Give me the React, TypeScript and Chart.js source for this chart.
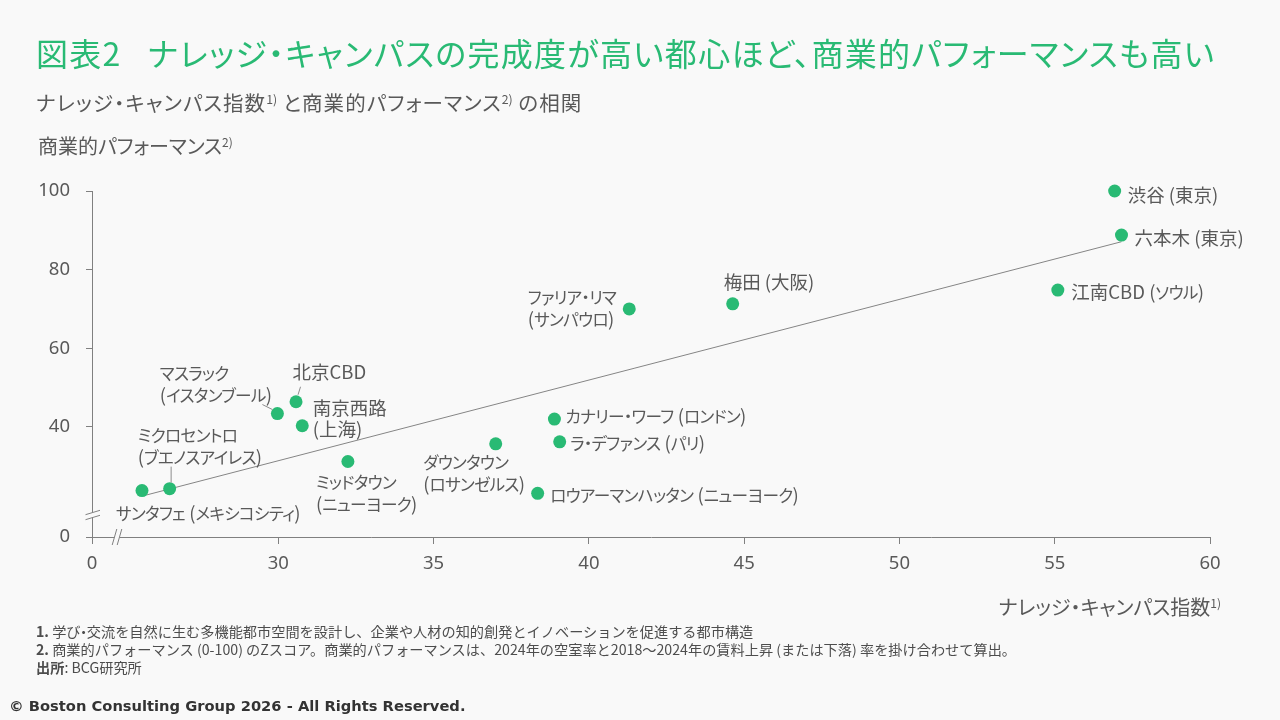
import React, { useEffect, useRef, useState } from 'react';
import { Chart, registerables } from 'chart.js';

Chart.register(...registerables);

// ---- data -------------------------------------------------------------
const cityNames = [
  '渋谷 (東京)',
  '六本木 (東京)',
  '江南CBD (ソウル)',
  '梅田 (大阪)',
  'ファリア・リマ\n(サンパウロ)',
  '北京CBD',
  'マスラック\n(イスタンブール)',
  '南京西路\n(上海)',
  'ミクロセントロ\n(ブエノスアイレス)',
  'サンタフェ (メキシコシティ)',
  'ミッドタウン\n(ニューヨーク)',
  'ダウンタウン\n(ロサンゼルス)',
  'カナリー・ワーフ (ロンドン)',
  'ラ・デファンス (パリ)',
  'ロウアーマンハッタン (ニューヨーク)',
];

// ナレッジ・キャンパス指数
const knowledgeIndex = [56.93, 57.15, 55.1, 44.63, 41.3, 30.57, 29.97, 30.77, 26.5, 25.61, 32.24, 37.0, 38.89, 39.06, 38.35];
// 商業的パフォーマンス (0-100)
const performance = [100, 88.8, 74.8, 71.3, 70.0, 46.4, 43.4, 40.3, 24.3, 23.8, 31.2, 35.7, 42.0, 36.2, 23.1];

// fitted trend line (two end points)
const trendIndex = [25.76, 57.15];
const trendPerformance = [22.7, 87.1];

// axes: both are broken, the floor value is shown as "0"
const xTickValues = [30, 35, 40, 45, 50, 55, 60];
const yTickValues = [40, 60, 80, 100];
const xAxisFloor = 24;
const yAxisFloor = 12;
const xAxisMax = 60;
const yAxisMax = 100;
const floorLabel = '0';

// ---- styles -----------------------------------------------------------
const GREEN = '#29BA74';
const TEXT = '#595959';
const AXIS = '#808080';
const BG = '#f9f9f9';
const JP = '"Noto Sans CJK JP", "Noto Sans", sans-serif';

type Placement = { align: 'left' | 'right'; dx: number; dy: number };
// where each city label sits relative to its point (px)
const labelPlacement: Placement[] = [
  { align: 'left', dx: 13, dy: -7.5 },
  { align: 'left', dx: 13, dy: -8.5 },
  { align: 'left', dx: 13.5, dy: -9 },
  { align: 'left', dx: -9, dy: -33 },
  { align: 'right', dx: -13, dy: -23 },
  { align: 'left', dx: -3.5, dy: -41 },
  { align: 'right', dx: -5.5, dy: -52 },
  { align: 'left', dx: 10.5, dy: -29 },
  { align: 'left', dx: -32, dy: -65 },
  { align: 'left', dx: -26, dy: 11.5 },
  { align: 'left', dx: -32, dy: 9.5 },
  { align: 'left', dx: -72.5, dy: 7.5 },
  { align: 'left', dx: 11, dy: -14.5 },
  { align: 'left', dx: 10.5, dy: -10 },
  { align: 'left', dx: 12.5, dy: -9 },
];

// short connector lines between a label and its point
const leaderLines = [
  { index: 5, from: [2, -7], to: [4.5, -15] },
  { index: 6, from: [-5, -4], to: [-15, -9] },
  { index: 8, from: [1.5, -6], to: [1.5, -22] },
];

const decorations = {
  id: 'decorations',
  afterDraw(chart: any) {
    const ctx = chart.ctx as CanvasRenderingContext2D;
    const { left, bottom } = chart.chartArea;
    const yb = bottom - 22;
    const xb = left + 25;
    ctx.save();
    // gaps in the axis lines
    ctx.fillStyle = BG;
    ctx.fillRect(left - 2, yb - 2.5, 4, 5);
    ctx.fillRect(xb - 2.5, bottom - 2, 5, 4);
    ctx.strokeStyle = AXIS;
    ctx.lineWidth = 1;
    for (const o of [-2.5, 2.5]) {
      ctx.beginPath();
      ctx.moveTo(left - 6.5, yb + o + 2.2);
      ctx.lineTo(left + 8, yb + o - 2.2);
      ctx.stroke();
      ctx.beginPath();
      ctx.moveTo(xb + o - 2.3, bottom + 8);
      ctx.lineTo(xb + o + 2.3, bottom - 8);
      ctx.stroke();
    }
    // label connectors
    const meta = chart.getDatasetMeta(1);
    ctx.strokeStyle = '#8c8c8c';
    for (const l of leaderLines) {
      const p = meta.data[l.index];
      ctx.beginPath();
      ctx.moveTo(p.x + l.from[0], p.y + l.from[1]);
      ctx.lineTo(p.x + l.to[0], p.y + l.to[1]);
      ctx.stroke();
    }
    ctx.restore();
  },
};

const tickFont = { family: '"Noto Sans", sans-serif', size: 18.5 };

const Sup = ({ children }: { children: React.ReactNode }) => (
  <span style={{ fontSize: '0.6em', verticalAlign: '0.55em', lineHeight: 0, letterSpacing: 0 }}>{children}</span>
);

// kana runs are set a little smaller than kanji and latin
const Kana = ({ text }: { text: string }) => (
  <>
    {text.split(/([\u3040-\u30ff]+)/).map((s, i) =>
      i % 2 ? (
        <span key={i} style={{ fontSize: '0.9em', letterSpacing: '-0.7px' }}>
          {s}
        </span>
      ) : (
        <React.Fragment key={i}>{s}</React.Fragment>
      )
    )}
  </>
);

export default function App() {
  const canvasRef = useRef<HTMLCanvasElement>(null);
  const [anchors, setAnchors] = useState<{ x: number; y: number }[]>([]);

  useEffect(() => {
    const chart = new Chart(canvasRef.current!, {
      type: 'scatter',
      data: {
        datasets: [
          {
            type: 'line',
            data: trendIndex.map((x, i) => ({ x, y: trendPerformance[i] })),
            borderColor: '#858585',
            borderWidth: 1,
            pointRadius: 0,
            showLine: true,
            order: 2,
          } as any,
          {
            data: knowledgeIndex.map((x, i) => ({ x, y: performance[i] })),
            backgroundColor: GREEN,
            borderWidth: 0,
            pointRadius: 6.5,
            pointHoverRadius: 6.5,
            clip: false,
            order: 1,
          },
        ],
      },
      options: {
        animation: false,
        responsive: false,
        events: [],
        layout: { padding: { left: 0, top: 191, right: 70, bottom: 143 } },
        plugins: { legend: { display: false }, tooltip: { enabled: false } },
        scales: {
          x: {
            type: 'linear',
            min: xAxisFloor,
            max: xAxisMax,
            afterBuildTicks: (s: any) => {
              s.ticks = [xAxisFloor, ...xTickValues].map((value) => ({ value }));
            },
            afterFit: (s: any) => {
              s.height = 40;
            },
            ticks: {
              callback: (v: any) => (v === xAxisFloor ? floorLabel : String(v)),
              font: tickFont,
              color: TEXT,
              padding: 9,
              maxRotation: 0,
              autoSkip: false,
            },
            grid: { drawOnChartArea: false, drawTicks: true, tickLength: 7, color: AXIS },
            border: { color: AXIS, width: 1 },
          },
          y: {
            type: 'linear',
            min: yAxisFloor,
            max: yAxisMax,
            afterBuildTicks: (s: any) => {
              s.ticks = [yAxisFloor, ...yTickValues].map((value) => ({ value }));
            },
            afterFit: (s: any) => {
              s.width = 92;
            },
            ticks: {
              callback: (v: any) => (v === yAxisFloor ? floorLabel : String(v)),
              font: tickFont,
              color: TEXT,
              padding: 16,
              autoSkip: false,
            },
            grid: { drawOnChartArea: false, drawTicks: true, tickLength: 6, color: AXIS },
            border: { color: AXIS, width: 1 },
          },
        },
      },
      plugins: [decorations],
    } as any);
    const meta = chart.getDatasetMeta(1);
    setAnchors(meta.data.map((p: any) => ({ x: p.x, y: p.y })));
    return () => chart.destroy();
  }, []);

  const jp: React.CSSProperties = {
    fontFamily: JP,
    fontFeatureSettings: '"palt"',
    whiteSpace: 'nowrap',
    position: 'absolute',
  };

  return (
    <div
      style={{
        position: 'absolute',
        left: 0,
        top: 0,
        width: 1280,
        height: 720,
        background: BG,
        overflow: 'hidden',
      }}
    >
      <canvas ref={canvasRef} width={1280} height={720} style={{ position: 'absolute', left: 0, top: 0, width: 1280, height: 720 }} />

      <div style={{ ...jp, left: 36, top: 36, fontSize: 32, lineHeight: '32px', color: GREEN, letterSpacing: '1.3px' }}>
        <span>図表2</span>
        <span style={{ marginLeft: 26 }}>ナレッジ・キャンパスの完成度が高い都心ほど、商業的パフォーマンスも高い</span>
      </div>

      <div style={{ ...jp, left: 36, top: 91, fontSize: 20.5, lineHeight: '22px', color: TEXT, letterSpacing: '1.1px' }}>
        ナレッジ・キャンパス指数<Sup>1)</Sup> と商業的パフォーマンス<Sup>2)</Sup> の相関
      </div>

      <div style={{ ...jp, left: 38, top: 135, fontSize: 20, lineHeight: '22px', color: TEXT }}>
        商業的パフォーマンス<Sup>2)</Sup>
      </div>

      <div style={{ ...jp, right: 1280 - 1221, top: 596, fontSize: 20, lineHeight: '22px', color: TEXT }}>
        ナレッジ・キャンパス指数<Sup>1)</Sup>
      </div>

      {anchors.map((a, i) => {
        const p = labelPlacement[i];
        return (
          <div
            key={i}
            style={{
              ...jp,
              left: a.x + p.dx,
              top: a.y + p.dy,
              transform: p.align === 'right' ? 'translateX(-100%)' : undefined,
              fontSize: 18.5,
              lineHeight: '21px',
              color: TEXT,
            }}
          >
            {cityNames[i].split('\n').map((line, j) => (
              <div key={j}>
                <Kana text={line} />
              </div>
            ))}
          </div>
        );
      })}

      <div
        style={{
          position: 'absolute',
          left: 36,
          top: 622,
          fontFamily: JP,
          whiteSpace: 'nowrap',
          fontSize: 14.2,
          lineHeight: '18.2px',
          color: '#4d4d4d',
        }}
      >
        <div>
          <b>1.</b> 学び<span style={{ margin: '0 -4px' }}>・</span>交流を自然に生む多機能都市空間を設計し、企業や人材の知的創発とイノベーションを促進する都市構造
        </div>
        <div>
          <b>2.</b> 商業的パフォーマンス (0-100) のZスコア。商業的パフォーマンスは、2024年の空室率と2018～2024年の賃料上昇 (または下落) 率を掛け合わせて算出。
        </div>
        <div>
          <b>出所</b>: BCG研究所
        </div>
      </div>

      <div
        style={{
          position: 'absolute',
          left: 9,
          top: 697,
          fontFamily: '"DejaVu Sans", sans-serif',
          fontWeight: 700,
          fontSize: 14.7,
          lineHeight: '18px',
          color: '#333333',
          whiteSpace: 'nowrap',
        }}
      >
        © Boston Consulting Group 2026 - All Rights Reserved.
      </div>
    </div>
  );
}
